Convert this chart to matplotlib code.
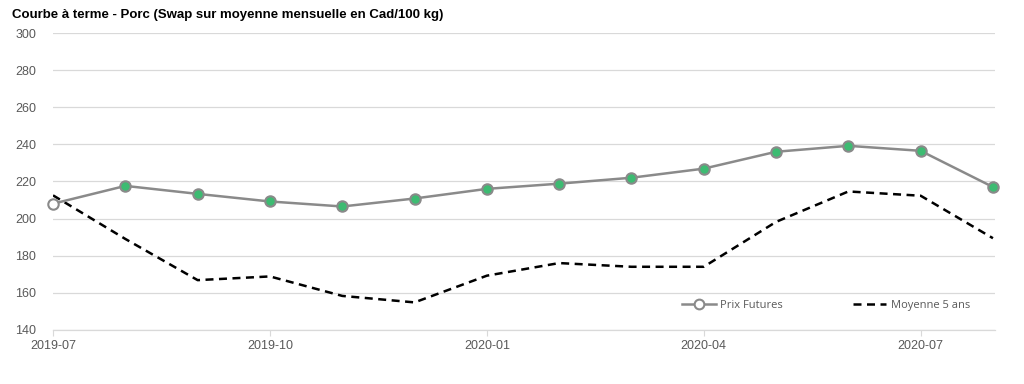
import matplotlib
matplotlib.use("Agg")
import matplotlib.pyplot as plt
from matplotlib.lines import Line2D

months = ["2019-07", "2019-08", "2019-09", "2019-10", "2019-11", "2019-12",
          "2020-01", "2020-02", "2020-03", "2020-04", "2020-05", "2020-06",
          "2020-07", "2020-08"]
prix_futures = [208, 217.6, 213.3, 209.2, 206.5, 210.8, 216.0, 218.8, 222.0,
                226.9, 236.0, 239.2, 236.5, 217.0]
moyenne_5ans = [212.5, 189.0, 166.8, 168.8, 158.3, 154.8, 169.2, 176.0, 174.0,
                174.0, 198.2, 214.6, 212.3, 189.4]
tick_labels = ["2019-07", "2019-10", "2020-01", "2020-04", "2020-07"]

plt.rcParams['font.family'] = ['Liberation Sans', 'DejaVu Sans']

fig = plt.figure(figsize=(10.24, 3.84), dpi=100)
ax = fig.add_axes([0.0518, 0.141, 0.92, 0.773])

x = list(range(len(months)))
grey = "#8a8a8a"
green = "#3dbb72"
dash = (0, (3.2, 2.2))

ax.plot(x, moyenne_5ans, color="black", lw=1.8, ls=dash, zorder=2)
ax.plot(x, prix_futures, color=grey, lw=1.8, zorder=3)
ax.plot(x[1:], prix_futures[1:], ls="none", marker="o", ms=7.5,
        mfc=green, mec=grey, mew=1.5, zorder=4, clip_on=False)
ax.plot(x[:1], prix_futures[:1], ls="none", marker="o", ms=7.5,
        mfc="white", mec=grey, mew=1.5, zorder=4, clip_on=False)

h1 = Line2D([], [], color=grey, lw=1.8, marker="o", ms=7, mfc="white", mec=grey, mew=1.5)
h2 = Line2D([], [], color="black", lw=1.8, ls=dash)
ax.legend([h1, h2], ["Prix Futures", "Moyenne 5 ans"], ncol=2, frameon=False,
          loc="lower right", bbox_to_anchor=(0.984, 0.03),
          handlelength=3.0, handletextpad=0.4, columnspacing=6.3,
          labelcolor="#595959", prop={'family': 'Open Sans', 'size': 8})

ax.set_ylim(140, 300)
ax.set_yticks(range(140, 301, 20))
ax.set_xlim(0, len(months) - 1 + 0.03)
tick_pos = [months.index(t) for t in tick_labels]
ax.set_xticks(tick_pos)
ax.set_xticklabels(tick_labels)

ax.grid(axis="y", color="#d9d9d9", lw=0.9)
ax.set_axisbelow(True)
for s in ["top", "right", "left"]:
    ax.spines[s].set_visible(False)
ax.spines["bottom"].set_color("#d9d9d9")
ax.spines["bottom"].set_linewidth(0.9)
ax.tick_params(axis="y", length=0, labelsize=9, labelcolor="#595959", pad=12)
ax.tick_params(axis="x", length=4, color="#d9d9d9", labelsize=9,
               labelcolor="#595959", pad=3)

fig.text(0.012, 0.962, "Courbe à terme - Porc (Swap sur moyenne mensuelle en Cad/100 kg)",
         fontsize=9.5, fontweight="bold", color="black", va="center", ha="left")

fig.savefig("out.png", dpi=100)
